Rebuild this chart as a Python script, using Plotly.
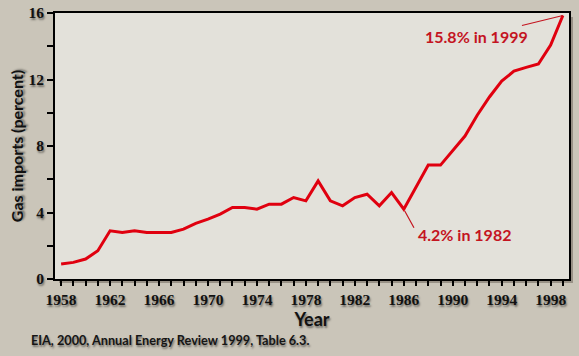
import plotly.graph_objects as go

years = list(range(1958, 2000))
gas_imports = [0.9, 1.0, 1.2, 1.7, 2.9, 2.8, 2.9, 2.8, 2.8, 2.8, 3.0, 3.35,
               3.6, 3.9, 4.3, 4.3, 4.2, 4.5, 4.5, 4.9, 4.7, 5.9, 4.7, 4.4,
               4.9, 5.1, 4.4, 5.2, 4.2, 5.5, 6.85, 6.85, 7.75, 8.6, 9.85, 10.95,
               11.9, 12.5, 12.73, 12.93, 14.07, 15.85]

x_tick_vals = list(range(1958, 2000, 4))
y_tick_vals = [0, 4, 8, 12, 16]

paper_bg = "#cac5b9"
plot_bg = "#e3e1da"
line_red = "#e0000f"
label_red = "#c4141f"
shadow = "1px 2px 2px rgba(0,0,0,0.45)"

fig = go.Figure()
fig.add_trace(go.Scatter(
    x=years, y=gas_imports, mode="lines",
    line=dict(color=line_red, width=3),
    hoverinfo="skip", showlegend=False,
))

W, H = 579, 356
L, R, T, B = 55, 10, 13, 77
pw, ph = W - L - R, H - T - B

fig.update_layout(
    width=W, height=H,
    margin=dict(l=L, r=R, t=T, b=B),
    paper_bgcolor=paper_bg,
    plot_bgcolor=paper_bg,
    showlegend=False,
    shapes=[
        dict(type="rect", xref="paper", yref="paper", layer="below",
             x0=4 / pw, x1=1 + 4 / pw, y0=-4 / ph, y1=1 - 4 / ph,
             fillcolor="rgba(60,50,40,0.35)", line=dict(width=0)),
        dict(type="rect", xref="paper", yref="paper", layer="below",
             x0=0, x1=1, y0=0, y1=1,
             fillcolor=plot_bg, line=dict(width=0)),
    ],
    xaxis=dict(
        range=[1957.5, 1999.5], showgrid=False, zeroline=False,
        tickmode="array", tickvals=x_tick_vals,
        ticks="outside", ticklen=5, tickwidth=1.5, tickcolor="black",
        minor=dict(dtick=1, tick0=1958, ticks="outside", ticklen=5, tickwidth=1.5, tickcolor="black"),
        showline=True, linecolor="black", linewidth=2, mirror=True,
        tickfont=dict(family="Liberation Serif", size=15.5, color="#111", weight="bold", shadow=shadow),
        title=dict(text="Year", standoff=6,
                   font=dict(family="Lato", size=18, color="#111", weight="bold", shadow=shadow)),
        automargin=False,
    ),
    yaxis=dict(
        range=[0, 16], showgrid=False, zeroline=False,
        tickmode="array", tickvals=y_tick_vals,
        ticks="outside", ticklen=6, tickwidth=1.5, tickcolor="black",
        minor=dict(dtick=2, tick0=0, ticks="outside", ticklen=6, tickwidth=1.5, tickcolor="black"),
        showline=True, linecolor="black", linewidth=2, mirror=True,
        tickfont=dict(family="Liberation Serif", size=15.5, color="#111", weight="bold", shadow=shadow),
        title=dict(text="Gas imports (percent)", standoff=1,
                   font=dict(family="Lato", size=16, color="#111", weight="bold", shadow=shadow)),
        automargin=False,
    ),
    annotations=[
        dict(x=1999, y=15.85, xref="x", yref="y", text="15.8% in 1999",
             showarrow=True, arrowhead=0, arrowwidth=1.2, arrowcolor=label_red,
             ax=-86, ay=21, standoff=0,
             font=dict(family="Lato", size=16, color=label_red, weight="bold")),
        # pointer line for the 1982 label
        dict(x=1986, y=4.2, xref="x", yref="y", text="",
             showarrow=True, arrowhead=0, arrowwidth=1.2, arrowcolor=label_red,
             ax=11, ay=20, standoff=2),
        dict(x=1986, y=4.2, xref="x", yref="y", text="4.2% in 1982",
             showarrow=False, xanchor="left", yanchor="middle",
             xshift=12, yshift=-25,
             font=dict(family="Lato", size=16, color=label_red, weight="bold")),
        dict(x=(29 - L) / pw, y=(H - B - 340) / ph, xref="paper", yref="paper",
             xanchor="left", yanchor="middle", showarrow=False,
             text="EIA, 2000, Annual Energy Review 1999, Table 6.3.",
             font=dict(family="Lato", size=12.7, color="#151515", weight="bold", shadow=shadow)),
    ],
)

fig.write_html(
    "out.html",
    config={"displayModeBar": False},
    post_script="document.body.style.margin='0';document.body.style.overflow='hidden';"
                "document.body.style.background='" + paper_bg + "';",
)
